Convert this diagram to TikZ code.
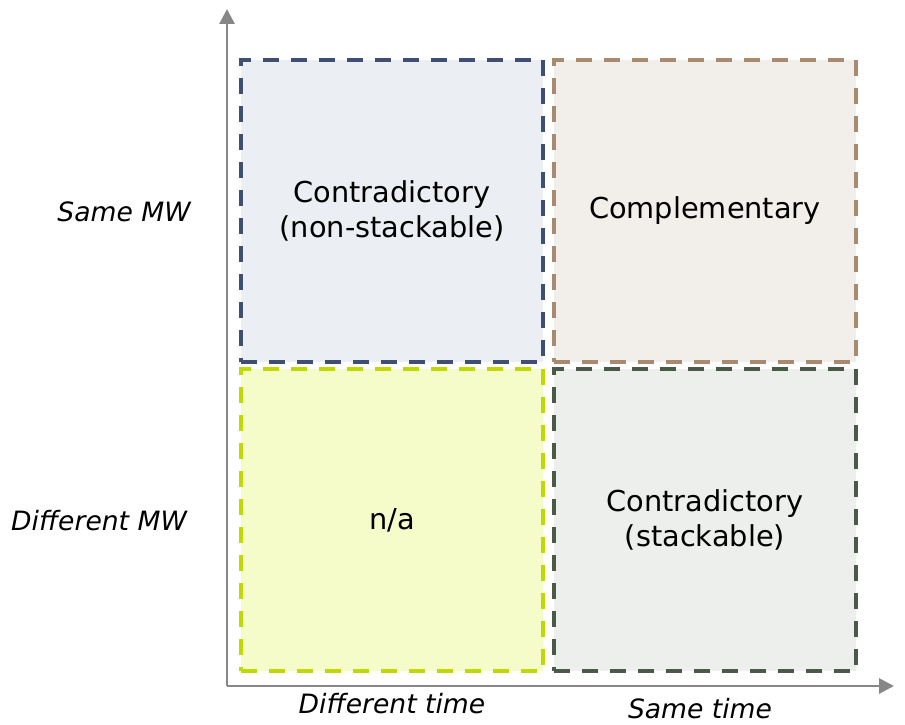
\documentclass[tikz,border=0pt]{standalone}
\usepackage{fontspec}
\setmainfont{DejaVu Sans}
\usepackage{xcolor}
\usetikzlibrary{arrows.meta}

\definecolor{tlborder}{HTML}{3F4F72}
\definecolor{tlfill}{HTML}{EBEEF3}
\definecolor{trborder}{HTML}{A88B6E}
\definecolor{trfill}{HTML}{F2EEEA}
\definecolor{blborder}{HTML}{BFDA00}
\definecolor{blfill}{HTML}{F5FCC9}
\definecolor{brborder}{HTML}{4B5A48}
\definecolor{brfill}{HTML}{EDEFEC}
\definecolor{axisgray}{HTML}{878787}

\tikzset{
    quad/.style={draw=#1border, fill=#1fill, line width=3.5pt,
        dash pattern=on 16pt off 12pt, minimum width=302pt, minimum height=302pt,
        align=center, font=\fontsize{28.8}{34.5}\selectfont},
    axislabel/.style={font=\fontsize{26.6}{32}\selectfont\itshape, inner sep=2pt},
    axisline/.style={draw=axisgray, line width=2.8pt, -{Triangle[length=15pt,width=15pt]}}
}

\begin{document}
\begin{tikzpicture}[x=1pt, y=-1pt]
    \useasboundingbox (0,0) rectangle (905,725);

    % --- Axes ---
    \coordinate (origin) at (227,686);
    \coordinate (ytop) at (227,9);
    \coordinate (xend) at (894,686);
    \draw[axisline] (origin) -- (ytop);
    \draw[axisline] (origin) -- (xend);

    % --- Quadrants ---
    \node[quad=tl] (samediff) at (392,211) {Contradictory\\(non-stackable)};
    \node[quad=tr] (samesame) at (705,211) {Complementary};
    \node[quad=bl] (diffdiff) at (392,520) {n/a};
    \node[quad=br] (diffsame) at (705,520) {Contradictory\\(stackable)};

    % --- Axis labels ---
    \node[axislabel] (samemw) at (124,212) {Same MW};
    \node[axislabel] (diffmw) at (99,521) {Different MW};
    \node[axislabel] (difftime) at (392,704) {Different time};
    \node[axislabel] (sametime) at (700,709) {Same time};
\end{tikzpicture}
\end{document}
